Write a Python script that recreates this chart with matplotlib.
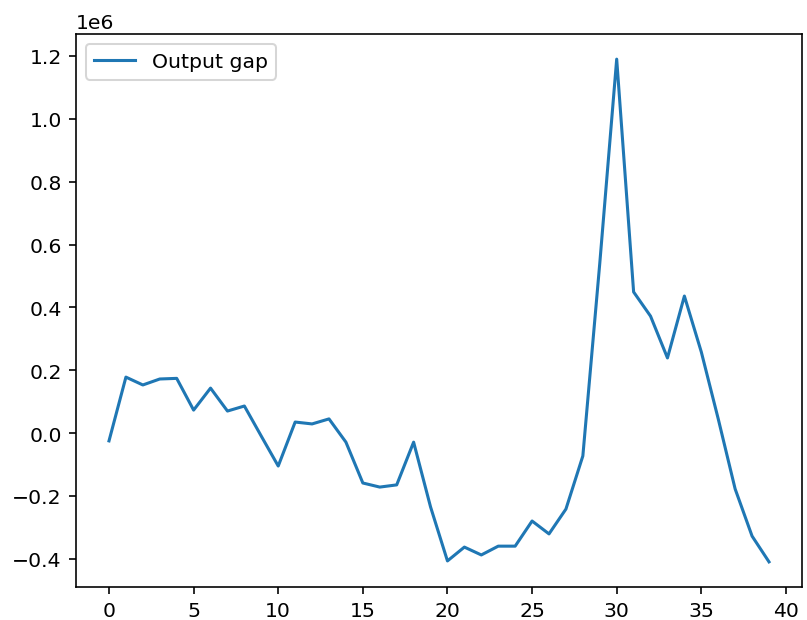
import matplotlib
matplotlib.use("Agg")
import matplotlib.pyplot as plt
import numpy as np

# output gap (units of 1e6)
periods = np.arange(40)
gap_millions = [
    -0.025, 0.178, 0.153, 0.172, 0.174, 0.073, 0.143, 0.070, 0.086, -0.010,
    -0.105, 0.035, 0.029, 0.045, -0.029, -0.159, -0.172, -0.165, -0.029, -0.235,
    -0.407, -0.363, -0.388, -0.360, -0.360, -0.280, -0.321, -0.242, -0.073, 0.540,
    1.190, 0.449, 0.372, 0.239, 0.436, 0.258, 0.045, -0.178, -0.328, -0.410,
]
output_gap = np.array(gap_millions) * 1e6

dpi = 147
fig = plt.figure(figsize=(807 / dpi, 621 / dpi), dpi=dpi)
ax = fig.add_axes([76 / 807, 33 / 621, 726 / 807, 553 / 621])
ax.plot(periods, output_gap, label="Output gap")
ax.legend(loc="upper left")
fig.savefig("out.png", dpi=dpi)
plt.close(fig)
